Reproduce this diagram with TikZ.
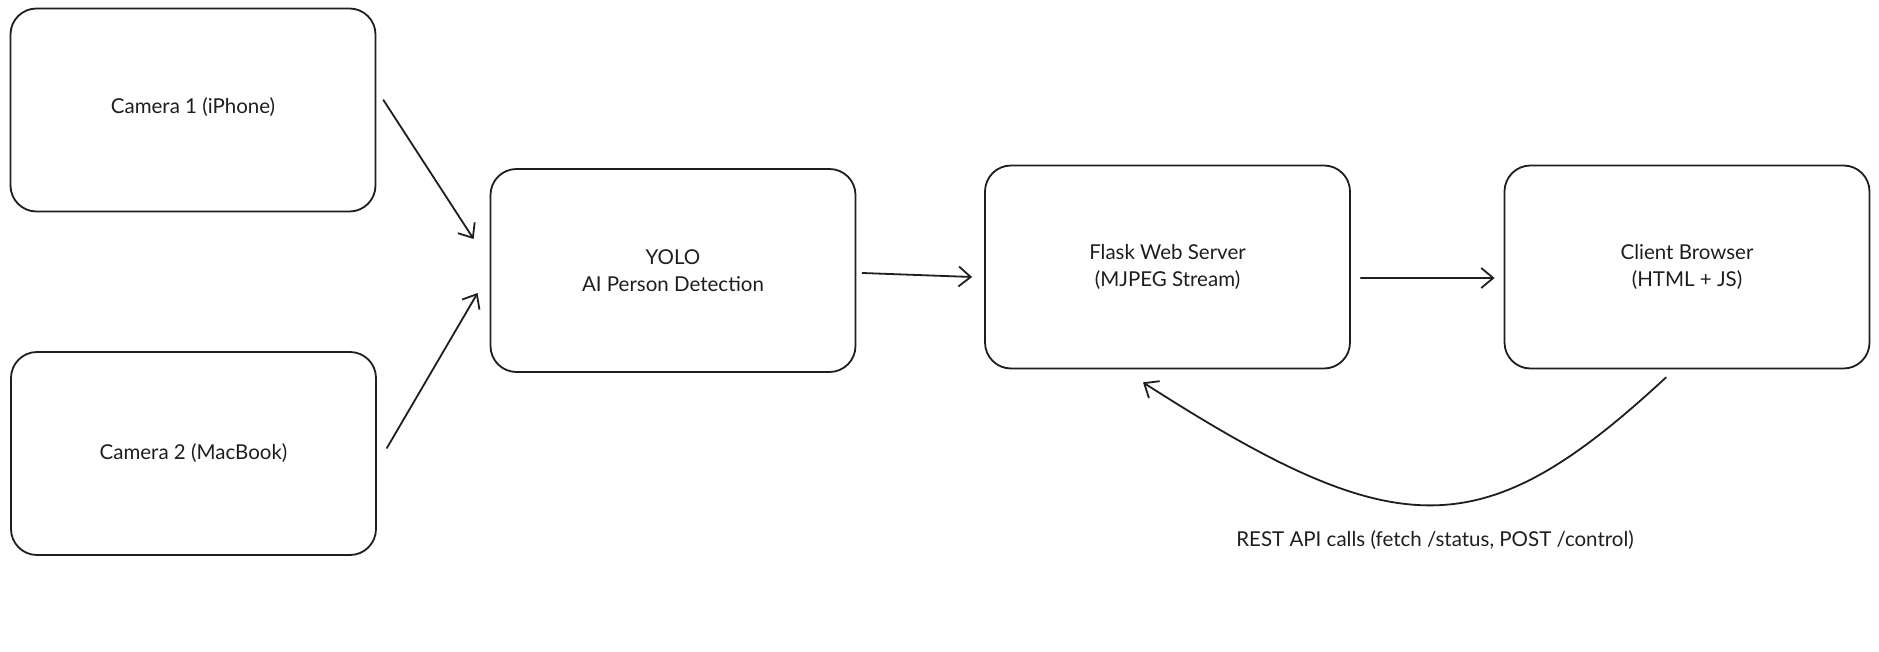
\documentclass[tikz,border=0pt]{standalone}
\usepackage{fontspec}
\setmainfont{Lato}
\usetikzlibrary{arrows.meta,calc}
\definecolor{ink}{HTML}{1E1E1E}
\tikzset{
  box/.style={draw=ink, line width=1.8pt, rounded corners=26pt, minimum width=365pt, minimum height=203pt, inner sep=0pt, align=center, font=\fontsize{20.5}{27.5}\selectfont, text=ink},
  arr/.style={draw=ink, line width=1.8pt, line cap=round, -{Straight Barb[length=12pt,width=20pt,line width=1.8pt]}},
  lbl/.style={font=\fontsize{20.5}{24}\selectfont, text=ink}
}
\begin{document}
\begin{tikzpicture}[x=1pt,y=-1pt]
\useasboundingbox (0,0) rectangle (1879,652);
\node[box] (cam1) at (193,110) {\raisebox{8pt}{Camera 1 (iPhone)}};
\node[box] (cam2) at (193.5,453.5) {Camera 2 (MacBook)};
\node[box] (yolo) at (673,270.5) {YOLO\\AI Person Detection};
\node[box] (flask) at (1167.5,267) {Flask Web Server\\(MJPEG Stream)};
\node[box] (client) at (1687,267) {Client Browser\\(HTML + JS)};
\node[lbl] (rest) at (1435,540) {REST API calls (fetch /status, POST /control)};
\draw[arr] ([xshift=7pt,yshift=10pt]cam1.east) -- ([xshift=-16pt,yshift=31.5pt]yolo.west);
\draw[arr] ([xshift=10pt,yshift=5.5pt]cam2.east) -- ([xshift=-12pt,yshift=-22.5pt]yolo.west);
\draw[arr] ([xshift=6pt,yshift=-2.5pt]yolo.east) -- ([xshift=-12pt,yshift=-10pt]flask.west);
\draw[arr] ([xshift=10pt,yshift=-11pt]flask.east) -- ([xshift=-9pt,yshift=-11pt]client.west);
\draw[arr] ([xshift=-21pt,yshift=-8pt]client.south) .. controls (1482,548) and (1398,546) .. ([xshift=-24.5pt,yshift=-13pt]flask.south);
\end{tikzpicture}
\end{document}
